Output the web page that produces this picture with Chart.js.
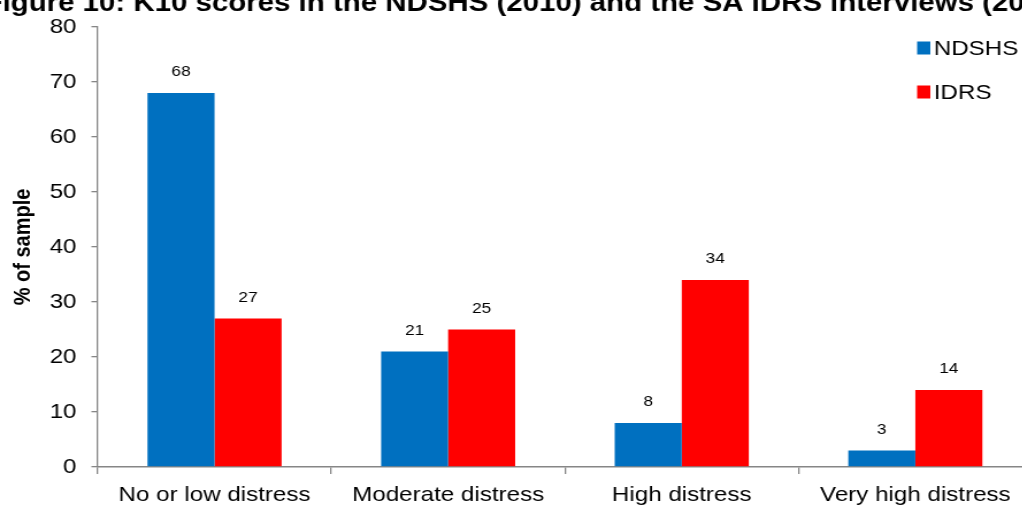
<!DOCTYPE html>
<html lang="en">
<head>
    <meta charset="UTF-8">
    <title>K10 scores - NDSHS vs IDRS</title>
    <style>
        html, body { margin: 0; padding: 0; overflow: hidden; background: #fff; }
        /* the source figure is stretched sideways, so the chart is drawn narrower and widened */
        #wrap { position: relative; width: 899px; height: 515px; transform: scaleX(1.15); transform-origin: 0 0; }
    </style>
</head>
<body>
    <div id="wrap">
        <canvas id="myChart"></canvas>
    </div>

    <script src="https://cdn.jsdelivr.net/npm/chart.js@4.4.0/dist/chart.umd.min.js"></script>
    <script>
    // data
    var categories = ['No or low distress', 'Moderate distress', 'High distress', 'Very high distress'];
    var ndshs = [68, 21, 8, 3];
    var idrs = [27, 25, 34, 14];
    var yTicks = [0, 10, 20, 30, 40, 50, 60, 70, 80];
    var titleText = 'Figure 10: K10 scores in the NDSHS (2010) and the SA IDRS interviews (2011)';

    var axisGrey = '#868686';
    var font = 'Arial, "Liberation Sans", sans-serif';

    // value labels above each bar
    var valueLabels = {
        id: 'valueLabels',
        afterDatasetsDraw: (chart) => {
            const c = chart.ctx;
            c.save();
            c.font = '15px ' + font;
            c.fillStyle = '#000';
            c.textAlign = 'center';
            c.textBaseline = 'middle';
            chart.data.datasets.forEach((ds, i) => {
                chart.getDatasetMeta(i).data.forEach((bar, j) => {
                    c.fillText(ds.data[j], bar.x, bar.y - 21);
                });
            });
            c.restore();
        }
    };

    // cut-off title at the top and the legend in the top right
    var extras = {
        id: 'extras',
        afterDraw: (chart) => {
            const c = chart.ctx;
            c.save();
            c.font = 'bold 25.6px ' + font;
            c.fillStyle = '#000';
            c.textBaseline = 'alphabetic';
            c.textAlign = 'left';
            c.fillText(titleText, -13.5, 10.5);

            c.font = '21px ' + font;
            c.textBaseline = 'middle';
            chart.data.datasets.forEach((ds, i) => {
                const y = 48 + i * 44;
                c.fillStyle = ds.backgroundColor;
                c.fillRect(797.5, y - 6.5, 11.5, 13);
                c.fillStyle = '#000';
                c.fillText(ds.label, 812, y + 1);
            });
            c.restore();
        }
    };

    var ctx = document.getElementById('myChart');
    var myChart = new Chart(ctx, {
        type: 'bar',
        data: {
            labels: categories,
            datasets: [
                { label: 'NDSHS', data: ndshs, backgroundColor: '#0070C0' },
                { label: 'IDRS', data: idrs, backgroundColor: '#FF0000' }
            ]
        },
        options: {
            responsive: true,
            maintainAspectRatio: false,
            animation: false,
            layout: { padding: { top: 27, left: 0, right: 1.5, bottom: 0 } },
            datasets: {
                bar: { barPercentage: 1.0, categoryPercentage: 0.574 }
            },
            plugins: {
                legend: { display: false },
                tooltip: { enabled: false }
            },
            scales: {
                x: {
                    grid: {
                        offset: true,
                        drawOnChartArea: false,
                        drawTicks: true,
                        tickLength: 7,
                        color: axisGrey,
                        lineWidth: 1.3
                    },
                    border: { color: axisGrey, width: 1.5 },
                    ticks: {
                        color: '#000',
                        font: { family: font, size: 21 },
                        padding: 9,
                        maxRotation: 0
                    },
                    afterFit: (s) => { s.height = 48; }
                },
                y: {
                    min: 0,
                    max: 80,
                    afterBuildTicks: (s) => { s.ticks = yTicks.map(v => ({ value: v })); },
                    grid: {
                        drawOnChartArea: false,
                        drawTicks: true,
                        tickLength: 5.5,
                        color: axisGrey,
                        lineWidth: 1.3
                    },
                    border: { color: axisGrey, width: 1.3 },
                    ticks: {
                        color: '#000',
                        font: { family: font, size: 21 },
                        padding: 13
                    },
                    title: {
                        display: true,
                        text: '% of sample',
                        color: '#000',
                        font: { family: font, size: 20, weight: 'bold' },
                        padding: { top: 8, bottom: 0 }
                    },
                    afterFit: (s) => { s.width = 85; }
                }
            }
        },
        plugins: [valueLabels, extras]
    });
    </script>
</body>
</html>
